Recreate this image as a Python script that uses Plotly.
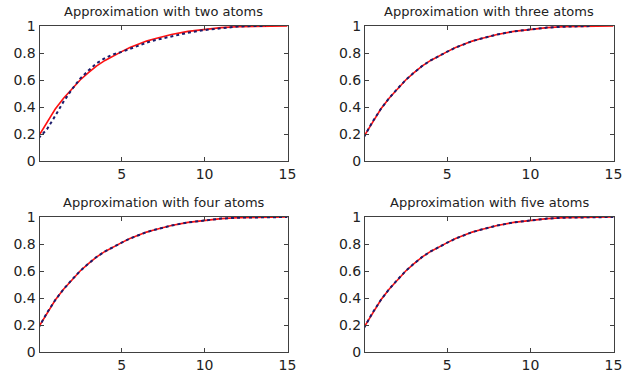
import plotly.graph_objects as go

titles = ["Approximation with two atoms", "Approximation with three atoms",
          "Approximation with four atoms", "Approximation with five atoms"]

x_vals = [0, 0.5, 1, 1.5, 2, 2.5, 3, 3.5, 4, 4.5, 5, 5.5, 6, 6.5, 7, 7.5, 8,
          9, 10, 11, 12, 13, 13.7]
x_tail = [15]

target = [0.185, 0.29, 0.385, 0.465, 0.535, 0.6, 0.655, 0.705, 0.745, 0.78,
          0.81, 0.84, 0.865, 0.888, 0.905, 0.922, 0.937, 0.96, 0.976, 0.988,
          0.995, 0.998, 1.0]
target_tail = [1.0]

approx_two = [0.17, 0.235, 0.335, 0.44, 0.53, 0.61, 0.67, 0.725, 0.762, 0.79,
              0.808, 0.832, 0.856, 0.876, 0.895, 0.91, 0.925, 0.95, 0.97,
              0.985, 0.996, 1.0, 1.0]
approx_three = [0.18, 0.29, 0.385, 0.465, 0.535, 0.6, 0.655, 0.705, 0.745,
                0.78, 0.81, 0.84, 0.865, 0.888, 0.905, 0.922, 0.937, 0.96,
                0.976, 0.988, 0.995, 0.998, 1.0]
approx_four = [0.18, 0.29, 0.385, 0.465, 0.535, 0.6, 0.655, 0.705, 0.745,
               0.78, 0.81, 0.84, 0.865, 0.888, 0.905, 0.922, 0.937, 0.96,
               0.976, 0.988, 0.995, 0.998, 1.0]
approx_five = [0.18, 0.29, 0.385, 0.465, 0.535, 0.6, 0.655, 0.705, 0.745,
               0.78, 0.81, 0.84, 0.865, 0.888, 0.905, 0.922, 0.937, 0.96,
               0.976, 0.988, 0.995, 0.998, 1.0]
approx_tail_extends = [False, False, True, True]

x_ticks = [5, 10, 15]
y_ticks = [0, 0.2, 0.4, 0.6, 0.8, 1]
y_ticklabels = ["0", "0.2", "0.4", "0.6", "0.8", "1"]

W, H = 622, 373
boxes = [  # left, right, top, bottom in px
    (39.5, 287.5, 26, 161),
    (365, 613.5, 26, 161),
    (39.5, 287.5, 217, 352),
    (365, 613.5, 217, 352),
]

approxs = [approx_two, approx_three, approx_four, approx_five]
FONT = "DejaVu Sans, Arial, sans-serif"

fig = go.Figure()
layout = dict(
    width=W, height=H, margin=dict(l=0, r=0, t=0, b=0, pad=0, autoexpand=False),
    paper_bgcolor="white", plot_bgcolor="white", showlegend=False,
    font=dict(family=FONT, size=14, color="#222"),
    annotations=[],
)

for i in range(4):
    l, r, t, b = boxes[i]
    xa = "xaxis" if i == 0 else f"xaxis{i+1}"
    ya = "yaxis" if i == 0 else f"yaxis{i+1}"
    xref = "x" if i == 0 else f"x{i+1}"
    yref = "y" if i == 0 else f"y{i+1}"
    ax_common = dict(showgrid=False, zeroline=False, showline=True, mirror="ticks",
                     linecolor="#404040", linewidth=1, ticks="inside", ticklen=4,
                     tickcolor="#404040", tickfont=dict(family=FONT, size=14, color="#222"),
                     ticklabeloverflow="allow", automargin=False)
    layout[xa] = dict(domain=[l / W, r / W], range=[0.05, 15], tickvals=x_ticks,
                      anchor=yref, **ax_common)
    layout[ya] = dict(domain=[1 - b / H, 1 - t / H], range=[0, 1], tickvals=y_ticks,
                      ticktext=y_ticklabels, anchor=xref, **ax_common)
    fig.add_trace(go.Scatter(x=x_vals + x_tail, y=target + target_tail, mode="lines",
                             line=dict(color="#ff1010", width=1.6),
                             xaxis=xref, yaxis=yref, hoverinfo="skip"))
    ax_x = x_vals + (x_tail if approx_tail_extends[i] else [])
    ax_y = approxs[i] + (target_tail if approx_tail_extends[i] else [])
    fig.add_trace(go.Scatter(x=ax_x, y=ax_y, mode="lines",
                             line=dict(color="#1c1c6b", width=2, dash="dot"),
                             xaxis=xref, yaxis=yref, hoverinfo="skip"))
    layout["annotations"].append(dict(
        text=titles[i], x=(l + r) / 2 / W, y=1 - (t - 14.5) / H,
        xref="paper", yref="paper", showarrow=False,
        font=dict(family=FONT, size=13, color="#222"), xanchor="center", yanchor="middle"))

fig.update_layout(**layout)
fig.write_html("out.html", config={"displayModeBar": False},
               post_script="document.body.style.margin='0';document.body.style.overflow='hidden';")
